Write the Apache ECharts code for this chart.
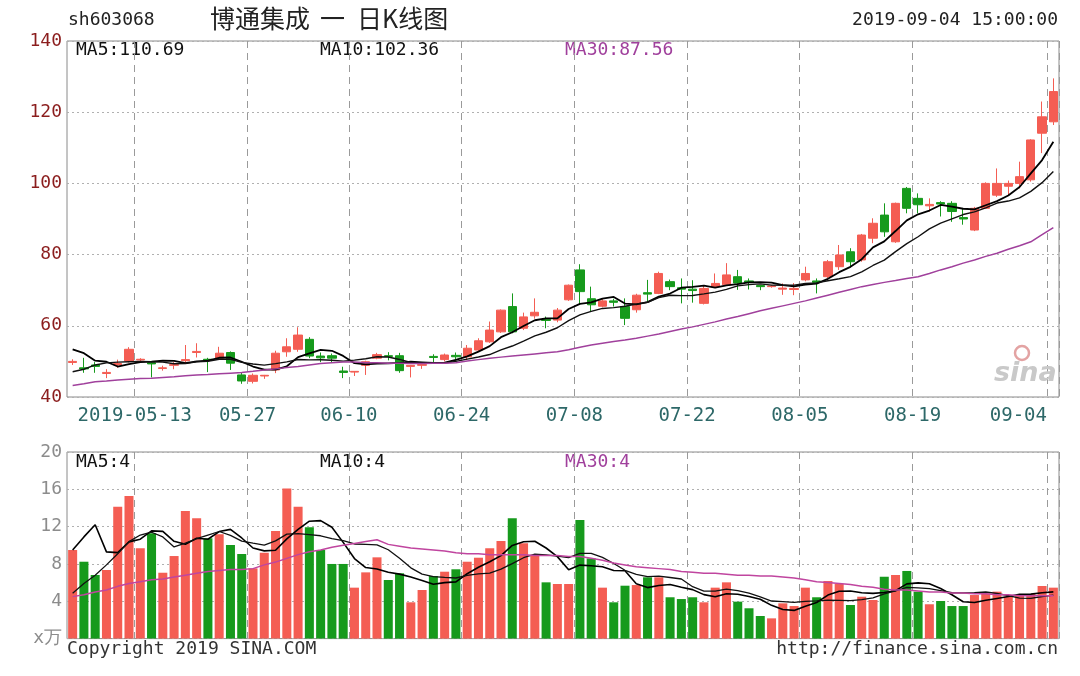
<!DOCTYPE html>
<html>
<head>
<meta charset="utf-8">
<script src="https://cdn.jsdelivr.net/npm/echarts@6/dist/echarts.min.js"></script>
<style>
html,body{margin:0;padding:0;background:#fff;}
#c{width:1080px;height:676px;}
</style>
</head>
<body>
<div id="c"></div>
<script>
// ---- data ----
const dates = [
'2019-04-30',
'2019-05-06','2019-05-07','2019-05-08','2019-05-09','2019-05-10','2019-05-13','2019-05-14','2019-05-15','2019-05-16','2019-05-17',
'2019-05-20','2019-05-21','2019-05-22','2019-05-23','2019-05-24','2019-05-27','2019-05-28','2019-05-29','2019-05-30','2019-05-31',
'2019-06-03','2019-06-04','2019-06-05','2019-06-06','2019-06-10','2019-06-11','2019-06-12','2019-06-13','2019-06-14',
'2019-06-17','2019-06-18','2019-06-19','2019-06-20','2019-06-21','2019-06-24','2019-06-25','2019-06-26','2019-06-27','2019-06-28',
'2019-07-01','2019-07-02','2019-07-03','2019-07-04','2019-07-05','2019-07-08','2019-07-09','2019-07-10','2019-07-11','2019-07-12',
'2019-07-15','2019-07-16','2019-07-17','2019-07-18','2019-07-19','2019-07-22','2019-07-23','2019-07-24','2019-07-25','2019-07-26',
'2019-07-29','2019-07-30','2019-07-31','2019-08-01','2019-08-02','2019-08-05','2019-08-06','2019-08-07','2019-08-08','2019-08-09',
'2019-08-12','2019-08-13','2019-08-14','2019-08-15','2019-08-16','2019-08-19','2019-08-20','2019-08-21','2019-08-22','2019-08-23',
'2019-08-26','2019-08-27','2019-08-28','2019-08-29','2019-08-30','2019-09-02','2019-09-03','2019-09-04'
];
const opens  = [49.7,48.2,49.0,46.6,49.0,50.1,50.4,49.6,48.0,48.9,50.2,52.5,50.6,50.9,52.5,46.2,44.4,45.9,47.6,52.7,53.4,
  56.2,51.5,51.6,47.3,47.0,48.9,50.9,51.6,51.6,48.6,48.9,51.4,50.5,51.7,51.3,53.2,55.5,58.3,65.4,
  59.3,62.8,61.8,61.6,67.3,75.7,67.6,65.5,67.0,65.4,64.5,69.3,69.1,72.4,70.7,70.3,66.3,71.0,71.5,73.8,
  72.6,71.3,71.0,70.3,70.2,72.9,72.6,73.8,76.6,80.8,78.5,84.6,91.1,83.6,98.6,95.8,93.7,94.6,94.4,90.4,
  86.9,93.0,96.7,99.2,100.0,101.0,114.1,117.3];
const closes = [50.0,47.9,48.6,46.9,49.4,53.4,50.6,49.3,48.2,49.1,50.5,52.8,50.4,52.3,49.5,44.5,46.1,46.1,52.3,54.1,57.4,
  51.5,51.0,50.9,46.9,47.2,49.9,51.9,51.4,47.4,48.9,49.1,51.1,51.8,51.3,53.7,55.8,58.8,64.4,58.3,
  62.5,63.8,61.5,64.4,71.4,69.6,65.9,67.0,66.6,62.1,68.6,68.9,74.7,71.0,70.3,69.9,70.5,71.9,74.3,72.0,
  72.2,71.0,71.2,70.6,70.5,74.7,72.2,78.0,79.9,78.0,85.5,88.8,86.4,94.4,93.0,94.0,94.1,94.2,92.1,90.0,
  93.0,100.0,100.0,100.0,101.9,112.2,118.7,125.8];
const lows   = [49.0,46.8,46.8,45.3,48.2,49.7,50.0,45.5,47.4,47.8,49.5,51.1,47.0,50.6,47.6,43.7,43.8,45.1,46.7,51.3,52.7,
  50.9,49.8,49.8,45.3,45.9,46.2,50.6,50.3,46.8,45.5,47.9,49.7,50.0,50.3,50.4,52.8,55.2,58.0,57.9,
  58.8,62.0,59.3,61.0,67.0,66.0,64.0,65.2,65.4,60.2,63.7,66.8,68.9,70.0,66.3,66.5,66.0,70.6,71.2,70.1,
  70.2,70.0,70.7,68.7,68.6,72.5,69.1,73.4,75.7,76.6,78.0,83.2,85.0,83.3,91.6,91.6,92.1,90.7,89.2,88.4,
  86.6,92.8,96.2,96.6,98.6,100.5,108.5,116.4];
const highs  = [50.6,51.0,49.8,47.8,50.5,54.0,50.9,49.8,48.8,49.8,54.6,55.1,51.0,54.1,52.8,46.8,46.6,46.2,53.0,56.5,59.6,
  56.8,52.5,52.2,48.5,47.3,50.2,52.4,52.6,52.4,49.0,49.6,52.0,52.2,52.5,54.6,56.5,61.2,64.6,69.1,
  63.7,67.7,62.6,65.0,71.6,77.3,71.0,67.6,67.6,67.7,69.0,72.9,75.2,73.0,73.3,72.8,71.2,74.7,77.6,75.7,
  73.3,71.4,71.5,71.9,72.0,76.6,73.3,78.5,82.7,81.8,85.8,90.2,94.4,94.6,99.0,97.2,95.8,95.0,95.0,92.8,
  93.4,100.3,104.2,100.8,106.1,112.4,123.0,129.5];
const volumes = [9.5,8.24,6.82,7.35,14.14,15.28,9.68,11.28,7.06,8.85,13.68,12.89,10.75,11.18,10.03,9.07,7.53,9.21,11.53,16.1,14.14,
  11.93,9.5,8.0,8.0,5.46,7.1,8.71,6.28,7.0,3.89,5.21,6.71,7.17,7.43,8.24,8.67,9.68,10.46,12.89,
  10.21,8.96,6.03,5.85,5.85,12.71,8.6,5.46,3.89,5.67,5.74,6.57,6.57,4.43,4.24,4.43,3.89,5.46,6.03,3.96,
  3.25,2.42,2.17,3.78,3.49,5.46,4.43,6.17,5.85,3.6,4.49,4.14,6.63,6.82,7.25,5.03,3.68,4.03,3.49,3.49,
  4.67,4.85,5.03,4.49,4.67,4.78,5.64,5.46];
const priceMa5Lead  = [53.4,52.3,50.2,49.9];
const priceMa10Lead = [47.1,47.8,49.0,49.6,49.8,49.9,50.0,49.9,49.8];
const priceMa30 = [43.2,43.7,44.3,44.5,44.8,45.0,45.2,45.3,45.5,45.7,46.0,46.2,46.3,46.5,46.7,46.9,47.2,47.6,47.9,48.3,48.6,
  49.0,49.4,49.6,49.8,49.8,49.6,49.6,49.5,49.5,49.4,49.4,49.5,49.5,49.6,50.1,50.5,50.9,51.2,51.5,
  51.8,52.1,52.4,52.7,53.3,54.0,54.6,55.1,55.6,56.0,56.5,57.1,57.7,58.4,59.1,59.7,60.4,61.1,61.9,62.6,
  63.4,64.2,64.9,65.6,66.3,67.0,67.8,68.6,69.4,70.2,71.0,71.6,72.2,72.7,73.3,73.8,74.7,75.7,76.6,77.6,
  78.5,79.5,80.4,81.5,82.5,83.6,85.6,87.56];
const volMa5Lead  = [9.5,10.9,12.2,9.3];
const volMa10Lead = [4.85,5.9,6.8,7.9,9.1,10.4,11.1,11.4,10.9];
const volMa30 = [4.5,4.7,5.0,5.2,5.6,5.9,6.1,6.3,6.4,6.6,6.8,7.0,7.2,7.3,7.4,7.4,7.5,7.9,8.2,8.6,9.0,
  9.3,9.5,9.8,10.0,10.2,10.4,10.6,10.1,9.9,9.7,9.6,9.5,9.4,9.2,9.1,9.1,9.0,9.0,9.0,
  9.0,8.9,8.9,8.9,8.8,8.8,8.6,8.4,8.1,7.9,7.7,7.6,7.5,7.4,7.2,7.1,7.0,7.0,6.9,6.8,
  6.8,6.7,6.7,6.6,6.5,6.3,6.1,6.0,5.9,5.8,5.6,5.5,5.3,5.2,5.2,5.1,5.0,5.0,4.9,4.9,
  4.8,4.8,4.7,4.7,4.6,4.6,4.6,4.6];
const tickDates = ['2019-05-13','2019-05-27','2019-06-10','2019-06-24','2019-07-08','2019-07-22','2019-08-05','2019-08-19','2019-09-04'];
const tickTexts = ['2019-05-13','05-27','06-10','06-24','07-08','07-22','08-05','08-19','09-04'];
const titleParts = ['博通集成', '一', '日K线图'];
const priceLegend = ['MA5:110.69','MA10:102.36','MA30:87.56'];
const volLegend = ['MA5:4','MA10:4','MA30:4'];

// ---- build ----
function movingAvg(vals, n, lead) {
  return vals.map((_, i) => {
    if (i < n - 1) return lead[i];
    let s = 0; for (let k = i - n + 1; k <= i; k++) s += vals[k];
    return +(s / n).toFixed(3);
  });
}
const tickIdx = tickDates.map(d => dates.indexOf(d));
const tickSet = new Set(tickIdx);
const lastTick = tickIdx[tickIdx.length - 1];
const UP = '#f45d53', DOWN = '#169a1c', PURPLE = '#a0409c';
const MONO = '"DejaVu Sans Mono", "Liberation Mono", monospace';
const CJK = '"Noto Sans CJK SC", sans-serif';

const kData = dates.map((_, i) => [opens[i], closes[i], lows[i], highs[i]]);
const volData = volumes.map((v, i) => ({ value: v, itemStyle: { color: closes[i] >= opens[i] ? UP : DOWN } }));

const splitV = { show: true, interval: (i) => tickSet.has(i), lineStyle: { color: '#9a9a9a', type: [7, 5], width: 1 } };
const splitH = { show: true, lineStyle: { color: '#b0b0b0', type: [2, 3], width: 1 } };

const chart = echarts.init(document.getElementById('c'), null, { renderer: 'canvas' });
chart.setOption({
  animation: false,
  backgroundColor: '#fff',
  grid: [
    { left: 67, right: 21, top: 41, height: 356, show: true, borderColor: '#8a8a8a', borderWidth: 1 },
    { left: 67, right: 21, top: 452, height: 186.6, show: true, borderColor: '#8a8a8a', borderWidth: 1 }
  ],
  xAxis: [
    { type: 'category', gridIndex: 0, data: dates, boundaryGap: true,
      axisLine: { show: false }, axisTick: { show: false }, splitLine: splitV,
      axisLabel: { interval: (i) => tickSet.has(i), margin: 10,
        formatter: (v, i) => {
          const t = tickTexts[tickIdx.indexOf(i)];
          return i === lastTick ? '{b|' + t + '}' : '{a|' + t + '}';
        },
        rich: {
          a: { fontFamily: MONO, fontSize: 19, color: '#2d6868', padding: [0, 11, 0, 0] },
          b: { fontFamily: MONO, fontSize: 19, color: '#2d6868', padding: [0, 70, 0, 0] }
        } } },
    { type: 'category', gridIndex: 1, data: dates, boundaryGap: true,
      axisLine: { show: false }, axisTick: { show: false }, splitLine: splitV,
      axisLabel: { show: false } }
  ],
  yAxis: [
    { type: 'value', gridIndex: 0, min: 40, max: 140, interval: 20,
      axisLine: { show: false }, axisTick: { show: false }, splitLine: splitH,
      axisLabel: { color: '#8b1d1d', fontFamily: MONO, fontSize: 18, margin: 5 } },
    { type: 'value', gridIndex: 1, min: 0, max: 20, interval: 4,
      axisLine: { show: false }, axisTick: { show: false }, splitLine: splitH,
      axisLabel: { color: '#8c8c8c', fontFamily: MONO, fontSize: 18, margin: 5,
        formatter: (v) => v === 0 ? 'x万' : String(v) } }
  ],
  series: [
    { type: 'candlestick', xAxisIndex: 0, yAxisIndex: 0, data: kData, barWidth: '78%',
      itemStyle: { color: UP, color0: DOWN, borderColor: UP, borderColor0: DOWN, borderWidth: 1 } },
    { type: 'line', xAxisIndex: 0, yAxisIndex: 0, data: movingAvg(closes, 5, priceMa5Lead), symbol: 'none',
      lineStyle: { color: '#000', width: 1.8 }, z: 3 },
    { type: 'line', xAxisIndex: 0, yAxisIndex: 0, data: movingAvg(closes, 10, priceMa10Lead), symbol: 'none',
      lineStyle: { color: '#111', width: 1.4 }, z: 3 },
    { type: 'line', xAxisIndex: 0, yAxisIndex: 0, data: priceMa30, symbol: 'none',
      lineStyle: { color: PURPLE, width: 1.5 }, z: 3 },
    { type: 'bar', xAxisIndex: 1, yAxisIndex: 1, data: volData, barWidth: '80%' },
    { type: 'line', xAxisIndex: 1, yAxisIndex: 1, data: movingAvg(volumes, 5, volMa5Lead), symbol: 'none',
      lineStyle: { color: '#000', width: 1.6 }, z: 3 },
    { type: 'line', xAxisIndex: 1, yAxisIndex: 1, data: movingAvg(volumes, 10, volMa10Lead), symbol: 'none',
      lineStyle: { color: '#111', width: 1.3 }, z: 3 },
    { type: 'line', xAxisIndex: 1, yAxisIndex: 1, data: volMa30, symbol: 'none',
      lineStyle: { color: '#c0459f', width: 1.5 }, z: 3 }
  ],
  graphic: [
    { type: 'text', left: 68, top: 11, style: { text: 'sh603068', font: '18px ' + MONO, fill: '#222' } },
    { type: 'text', left: 210, top: 6, style: { text: titleParts[0], font: '25px ' + CJK, fill: '#222' } },
    { type: 'text', left: 320, top: 6, style: { text: titleParts[1], font: '25px ' + CJK, fill: '#222' } },
    { type: 'text', left: 357, top: 6, style: { text: titleParts[2], font: '25px ' + CJK, fill: '#222' } },
    { type: 'text', right: 22, top: 11, style: { text: '2019-09-04 15:00:00', font: '18px ' + MONO, fill: '#222' } },
    { type: 'text', left: 76, top: 41, style: { text: priceLegend[0], font: '18px ' + MONO, fill: '#111' } },
    { type: 'text', left: 320, top: 41, style: { text: priceLegend[1], font: '18px ' + MONO, fill: '#111' } },
    { type: 'text', left: 565, top: 41, style: { text: priceLegend[2], font: '18px ' + MONO, fill: PURPLE } },
    { type: 'text', left: 76, top: 453, style: { text: volLegend[0], font: '18px ' + MONO, fill: '#111' } },
    { type: 'text', left: 320, top: 453, style: { text: volLegend[1], font: '18px ' + MONO, fill: '#111' } },
    { type: 'text', left: 565, top: 453, style: { text: volLegend[2], font: '18px ' + MONO, fill: PURPLE } },
    { type: 'text', left: 67, top: 640, style: { text: 'Copyright 2019 SINA.COM', font: '18px ' + MONO, fill: '#333' } },
    { type: 'text', right: 22, top: 640, style: { text: 'http://finance.sina.com.cn', font: '18px ' + MONO, fill: '#333' } },
    { type: 'circle', shape: { cx: 1022, cy: 353, r: 7 }, style: { fill: 'none', stroke: '#e3a3a3', lineWidth: 2.5 }, z: 1 },
    { type: 'text', left: 994, top: 360, style: { text: 'sina', font: 'italic bold 27px "DejaVu Sans", sans-serif', fill: '#c9c9c9' }, z: 1 }
  ]
});
</script>
</body>
</html>
